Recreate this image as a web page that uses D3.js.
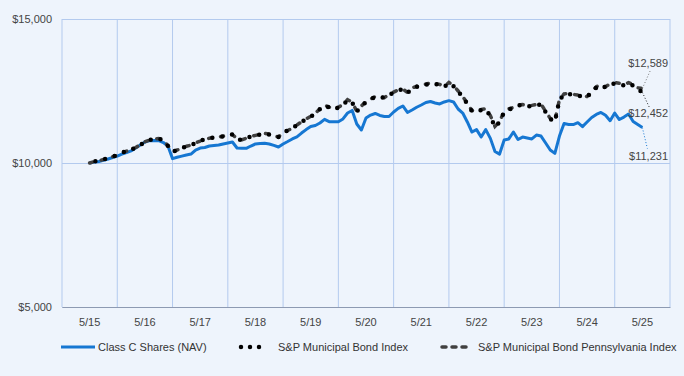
<!DOCTYPE html>
<html>
<head>
<meta charset="utf-8">
<script src="https://cdn.jsdelivr.net/npm/d3@7"></script>
<style>
  html, body { margin: 0; padding: 0; background: #eef4fc; }
  #chart { width: 684px; height: 376px; }
  text { font-family: "Liberation Sans", Arial, sans-serif; }
</style>
</head>
<body>
<div id="chart"></div>
<script>
// year labels on the x axis (one band per year)
const yearLabels = ["5/15","5/16","5/17","5/18","5/19","5/20","5/21","5/22","5/23","5/24","5/25"];
const yTicks = [5000, 10000, 15000];
const seriesNames = ["Class C Shares (NAV)", "S&P Municipal Bond Index", "S&P Municipal Bond Pennsylvania Index"];

// monthly values, 5/15 .. 5/25 (121 points)
const classC = [
  10000,10030,10050,10090,10140,10190,10240,10310,10360,10420,10520,10625,10730,10775,10780,10775,10710,10590,10150,10200,
  10240,10280,10310,10450,10520,10540,10590,10610,10625,10660,10695,10730,10520,10510,10510,10590,10660,10680,10685,10660,
  10610,10555,10660,10745,10835,10910,11040,11160,11265,11300,11390,11515,11435,11435,11435,11530,11735,11825,11355,11145,
  11560,11665,11720,11650,11615,11615,11770,11895,11980,11755,11840,11935,12015,12100,12135,12085,12050,12120,12165,12120,
  11875,11735,11425,11075,11160,10900,11160,10855,10400,10310,10800,10835,11075,10815,10900,10870,10835,10970,10935,10695,
  10450,10335,10935,11370,11335,11335,11400,11265,11425,11580,11685,11755,11655,11470,11735,11510,11595,11700,11440,11335,11231
];
const spMuni = [
  10000,10050,10090,10120,10170,10220,10280,10350,10420,10450,10540,10620,10750,10800,10830,10850,10780,10590,10390,10450,
  10520,10570,10620,10690,10760,10830,10860,10880,10900,10920,10970,10990,10830,10800,10850,10920,10950,10990,11020,10990,
  10920,10900,11040,11130,11200,11320,11420,11530,11610,11720,11870,12000,11930,11860,11930,12010,12190,12100,11790,11960,
  12120,12200,12300,12290,12260,12360,12450,12520,12560,12430,12590,12650,12670,12720,12760,12740,12710,12640,12780,12670,
  12480,12290,12050,11800,11780,11840,11860,11630,11250,11420,11770,11860,11910,12000,12010,11960,11980,12010,12030,11770,
  11530,11430,12190,12380,12400,12360,12340,12310,12290,12470,12620,12710,12620,12720,12760,12740,12690,12760,12690,12560,12452
];
const spMuniPA = [
  10000,10050,10080,10120,10180,10220,10270,10350,10410,10460,10540,10630,10740,10800,10840,10850,10790,10600,10400,10450,
  10520,10580,10620,10700,10760,10830,10860,10890,10900,10930,10970,10990,10840,10800,10860,10920,10960,10990,11030,11000,
  10930,10910,11050,11130,11210,11320,11430,11530,11620,11730,11880,12010,11940,11870,11940,12020,12200,12110,11800,11980,
  12130,12220,12310,12300,12270,12380,12460,12540,12570,12450,12600,12670,12690,12740,12780,12760,12730,12660,12800,12690,
  12500,12310,12070,11820,11800,11860,11880,11650,11270,11440,11790,11880,11930,12020,12030,11980,12000,12030,12050,11790,
  11550,11450,12210,12400,12420,12380,12360,12330,12310,12490,12650,12730,12650,12750,12790,12770,12720,12790,12720,12610,12589
];

class Chart{
  width = 684;
  height = 376;
  margin = {top: 19, right: 14, bottom: 69, left: 62};
  constructor(container){
    this.container = container;
  }
  draw = () => {
    const m = this.margin;
    const svg = d3.select(this.container)
                .append("svg")
                .attr("width", this.width)
                .attr("height", this.height);
    svg.append("rect")
       .attr("width", this.width)
       .attr("height", this.height)
       .attr("fill", "#eef4fc");

    // scales
    const xBand = d3.scaleBand()
                    .domain(yearLabels)
                    .range([m.left, this.width - m.right]);
    const half = xBand.bandwidth() / 2;
    const xMonth = d3.scaleLinear()
                    .domain([0, classC.length - 1])
                    .range([xBand(yearLabels[0]) + half, xBand(yearLabels[yearLabels.length - 1]) + half]);
    const yScale = d3.scaleLinear()
                    .domain([5000, 15000])
                    .range([this.height - m.bottom, m.top]);

    // vertical grid lines on band edges
    const edges = yearLabels.map(d => xBand(d)).concat([xBand.range()[1]]);
    svg.append("g").selectAll("line")
       .data(edges)
       .enter().append("line")
       .attr("x1", d => d).attr("x2", d => d)
       .attr("y1", yScale(15000)).attr("y2", yScale(5000))
       .attr("stroke", "#b3caee")
       .attr("stroke-width", 1);

    // left axis with horizontal grid
    const yAxis = svg.append("g")
       .attr("transform", "translate(" + m.left + ",0)")
       .call(d3.axisLeft(yScale)
               .tickValues(yTicks)
               .tickSize(-(this.width - m.left - m.right))
               .tickPadding(10)
               .tickFormat(d3.format("$,")));
    yAxis.select(".domain").remove();
    yAxis.selectAll(".tick line").attr("stroke", "#b3caee");
    yAxis.selectAll(".tick text").attr("fill", "#444").attr("font-size", "11px");

    // bottom axis
    const xAxis = svg.append("g")
       .attr("transform", "translate(0," + yScale(5000) + ")")
       .call(d3.axisBottom(xBand).tickSize(0).tickPadding(11).tickSizeOuter(0));
    xAxis.select(".domain").attr("stroke", "#8d9ab2");
    xAxis.selectAll(".tick text").attr("fill", "#444").attr("font-size", "11px");

    const line = d3.line()
                   .x((d, i) => xMonth(i))
                   .y(d => yScale(d));

    // series
    svg.append("path").datum(classC)
       .attr("d", line)
       .attr("fill", "none")
       .attr("stroke", "#1677d2")
       .attr("stroke-width", 3)
       .attr("stroke-linejoin", "round");
    svg.append("path").datum(spMuniPA)
       .attr("d", line)
       .attr("fill", "none")
       .attr("stroke", "#404040")
       .attr("stroke-width", 3.5)
       .attr("stroke-linecap", "round")
       .attr("stroke-dasharray", "3,9");
    svg.append("path").datum(spMuni)
       .attr("d", line)
       .attr("fill", "none")
       .attr("stroke", "#000")
       .attr("stroke-width", 4.5)
       .attr("stroke-linecap", "round")
       .attr("stroke-dasharray", "0,10")
       .attr("stroke-dashoffset", -6);

    // end value labels with leader lines
    const last = classC.length - 1;
    const ends = [
      {v: spMuniPA[last], dy: -25, lx: 8, ly: -18, color: "#777"},
      {v: spMuni[last], dy: 21, lx: 7, ly: 15, color: "#222"},
      {v: classC[last], dy: 28, lx: 5, ly: 21, color: "#1677d2"}
    ];
    ends.forEach(e => {
      const ex = xMonth(last), ey = yScale(e.v);
      svg.append("line")
         .attr("x1", ex).attr("y1", ey)
         .attr("x2", ex + e.lx).attr("y2", ey + e.ly)
         .attr("stroke", e.color)
         .attr("stroke-width", 1)
         .attr("stroke-dasharray", "1,2");
      svg.append("text")
         .attr("x", 668)
         .attr("y", ey + e.dy + 4)
         .attr("text-anchor", "end")
         .attr("font-size", "11px")
         .attr("fill", "#444")
         .text(d3.format("$,")(e.v));
    });

    // legend
    const ly = 347;
    const lg = svg.append("g");
    lg.append("line")
      .attr("x1", 61).attr("x2", 95).attr("y1", ly).attr("y2", ly)
      .attr("stroke", "#1677d2").attr("stroke-width", 3);
    lg.append("line")
      .attr("x1", 241).attr("x2", 268).attr("y1", ly).attr("y2", ly)
      .attr("stroke", "#000").attr("stroke-width", 4.5)
      .attr("stroke-linecap", "round").attr("stroke-dasharray", "0,9");
    lg.append("line")
      .attr("x1", 442).attr("x2", 466).attr("y1", ly).attr("y2", ly)
      .attr("stroke", "#404040").attr("stroke-width", 3.5)
      .attr("stroke-linecap", "round").attr("stroke-dasharray", "4,6");
    const lx = [98, 278, 478];
    lg.selectAll("text")
      .data(seriesNames)
      .enter().append("text")
      .attr("x", (d, i) => lx[i])
      .attr("y", ly + 4)
      .attr("font-size", "11px")
      .attr("fill", "#333")
      .text(d => d);
  }
}

const chart = new Chart(document.getElementById("chart"));
chart.draw();
</script>
</body>
</html>
